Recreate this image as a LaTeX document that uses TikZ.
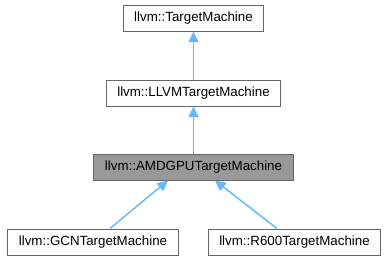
\documentclass[tikz,border=0pt]{standalone}
\usepackage{fontspec}
\setmainfont{Liberation Sans}
\usetikzlibrary{arrows.meta}

\definecolor{edgeblue}{HTML}{63B8FF}
\definecolor{boxgrey}{HTML}{666666}
\definecolor{curgrey}{HTML}{999999}

\begin{document}
\begin{tikzpicture}[x=0.75pt,y=-0.75pt,<-,>={Triangle[length=8pt,width=7.5pt]},node distance=56.25pt,line width=0.75pt]
	\tikzstyle{every node}=[draw=boxgrey,fill=white,font=\fontsize{10pt}{12pt}\selectfont,minimum height=19.5pt,inner xsep=8.4pt,inner ysep=0pt]
	\tikzstyle{current}=[fill=curgrey]
	\tikzstyle{inherit}=[draw=edgeblue,line width=1.1pt]

	\useasboundingbox (0,0) rectangle (389,261);

	\node (tm) at (193.5,18) {llvm::TargetMachine};
	\node (llvmtm) [below of=tm] {llvm::LLVMTargetMachine};
	\node[current] (amdgpu) [below of=llvmtm, yshift=0.75pt] {llvm::AMDGPUTargetMachine};
	\node (gcn) at (93,242) {llvm::GCNTargetMachine};
	\node (r600) at (294.5,242) {llvm::R600TargetMachine};

	\draw[inherit] (tm.south) -- (llvmtm.north);
	\draw[inherit] (llvmtm.south) -- (amdgpu.north);
	\draw[inherit] ([xshift=-19.1pt]amdgpu.south) -- ([xshift=12.75pt]gcn.north);
	\draw[inherit] ([xshift=16.1pt]amdgpu.south) -- ([xshift=-13.1pt]r600.north);
\end{tikzpicture}
\end{document}
